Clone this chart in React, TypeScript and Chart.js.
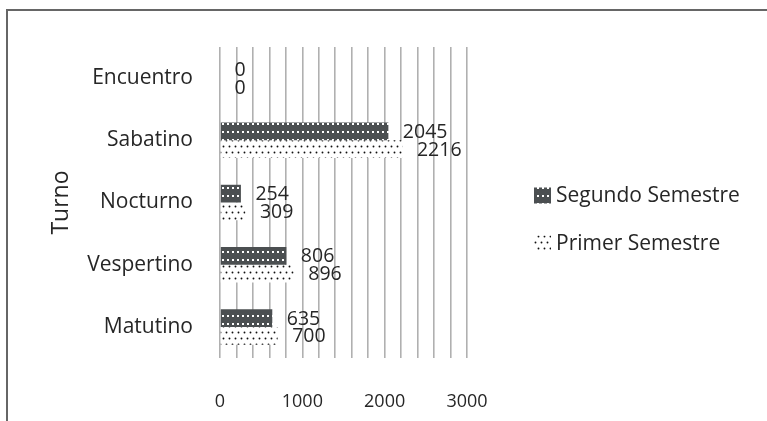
import React, { useEffect, useRef } from "react";
import { Chart, registerables } from "chart.js";

Chart.register(...registerables);

// Categories listed top to bottom
const turnos = ["Encuentro", "Sabatino", "Nocturno", "Vespertino", "Matutino"];
const segundoSemestre = [0, 2045, 254, 806, 635];
const primerSemestre = [0, 2216, 309, 896, 700];
const seriesNames = ["Segundo Semestre", "Primer Semestre"];
const axisTicks = [0, 1000, 2000, 3000];

const FONT = "'Open Sans', 'DejaVu Sans', sans-serif";
const TEXT = "#262626";

function makeDarkDots(): CanvasPattern | string {
  const c = document.createElement("canvas");
  c.width = 5;
  c.height = 8;
  const g = c.getContext("2d");
  if (!g) return "#4b4f51";
  g.fillStyle = "#4b4f51";
  g.fillRect(0, 0, 5, 8);
  g.fillStyle = "#ffffff";
  g.fillRect(2, 3, 2, 2);
  return g.createPattern(c, "repeat") || "#4b4f51";
}

function makeLightDots(): CanvasPattern | string {
  const c = document.createElement("canvas");
  c.width = 6;
  c.height = 12;
  const g = c.getContext("2d");
  if (!g) return "#ffffff";
  g.fillStyle = "#ffffff";
  g.fillRect(0, 0, 6, 12);
  g.fillStyle = "#111111";
  g.beginPath();
  g.arc(1.5, 2.5, 0.95, 0, Math.PI * 2);
  g.arc(4.5, 8.5, 0.95, 0, Math.PI * 2);
  g.fill();
  return g.createPattern(c, "repeat") || "#ffffff";
}

// Writes each bar's value just past its end
const valueLabels = {
  id: "valueLabels",
  afterDatasetsDraw(chart: any) {
    const ctx = chart.ctx;
    ctx.save();
    ctx.font = `19.5px ${FONT}`;
    ctx.fillStyle = TEXT;
    ctx.textAlign = "left";
    ctx.textBaseline = "middle";
    chart.data.datasets.forEach((ds: any, di: number) => {
      const meta = chart.getDatasetMeta(di);
      meta.data.forEach((bar: any, i: number) => {
        ctx.fillText(String(ds.data[i]), bar.x + 14.5, bar.y + 1);
      });
    });
    ctx.restore();
  },
};

// Legend drawn to the right of the plot
const sideLegend = {
  id: "sideLegend",
  afterDraw(chart: any) {
    const ctx = chart.ctx;
    const area = chart.chartArea;
    const x = area.right + 67;
    const mid = (area.top + area.bottom) / 2;
    const rows = [mid - 7, mid + 41];
    ctx.save();
    ctx.font = `21px ${FONT}`;
    ctx.textAlign = "left";
    ctx.textBaseline = "middle";
    chart.data.datasets.forEach((ds: any, di: number) => {
      const y = rows[di];
      ctx.fillStyle = ds.backgroundColor;
      ctx.fillRect(x, y - 8, 17, 16);
      ctx.fillStyle = TEXT;
      ctx.fillText(ds.label, x + 22, y + 1);
    });
    ctx.restore();
  },
};

export default function App() {
  const canvasRef = useRef<HTMLCanvasElement | null>(null);

  useEffect(() => {
    const canvas = canvasRef.current;
    if (!canvas) return;
    const chart = new Chart(canvas, {
      type: "bar",
      data: {
        labels: turnos,
        datasets: [
          {
            label: seriesNames[0],
            data: segundoSemestre,
            backgroundColor: makeDarkDots() as any,
            borderWidth: 0,
          },
          {
            label: seriesNames[1],
            data: primerSemestre,
            backgroundColor: makeLightDots() as any,
            borderWidth: 0,
          },
        ],
      },
      options: {
        indexAxis: "y",
        animation: false,
        responsive: false,
        maintainAspectRatio: false,
        datasets: {
          bar: { categoryPercentage: 0.57, barPercentage: 1 },
        },
        layout: { padding: { left: 48, top: 47, right: 300, bottom: 0 } },
        plugins: {
          legend: { display: false },
          tooltip: { enabled: false },
        },
        scales: {
          x: {
            min: 0,
            max: 3000,
            border: { display: false },
            grid: { color: "#b0b0b0", lineWidth: 1.6, drawTicks: false },
            ticks: {
              stepSize: 200,
              autoSkip: false,
              maxRotation: 0,
              padding: 33,
              color: TEXT,
              font: { family: FONT, size: 18 },
              callback: (v: any) => (axisTicks.includes(Number(v)) ? String(v) : ""),
            },
            afterFit: (axis: any) => {
              axis.height = 421 - 358;
            },
          },
          y: {
            border: { display: false },
            grid: { display: false, drawTicks: false },
            ticks: {
              padding: 27,
              color: TEXT,
              font: { family: FONT, size: 21 },
            },
            title: {
              display: true,
              text: "Turno",
              color: TEXT,
              padding: 0,
              font: { family: FONT, size: 23 },
            },
            afterFit: (axis: any) => {
              axis.width = 172;
            },
          },
        },
      },
      plugins: [valueLabels, sideLegend],
    });
    return () => chart.destroy();
  }, []);

  return (
    <div
      style={{
        position: "fixed",
        left: 0,
        top: 0,
        width: 767,
        height: 421,
        overflow: "hidden",
        background: "#ffffff",
      }}
    >
      <div
        style={{
          position: "absolute",
          left: 6,
          top: 9,
          width: 800,
          height: 500,
          borderLeft: "2px solid #666666",
          borderTop: "2px solid #666666",
        }}
      />
      <canvas
        ref={canvasRef}
        width={767}
        height={421}
        style={{ position: "absolute", left: 0, top: 0, display: "block" }}
      />
    </div>
  );
}
